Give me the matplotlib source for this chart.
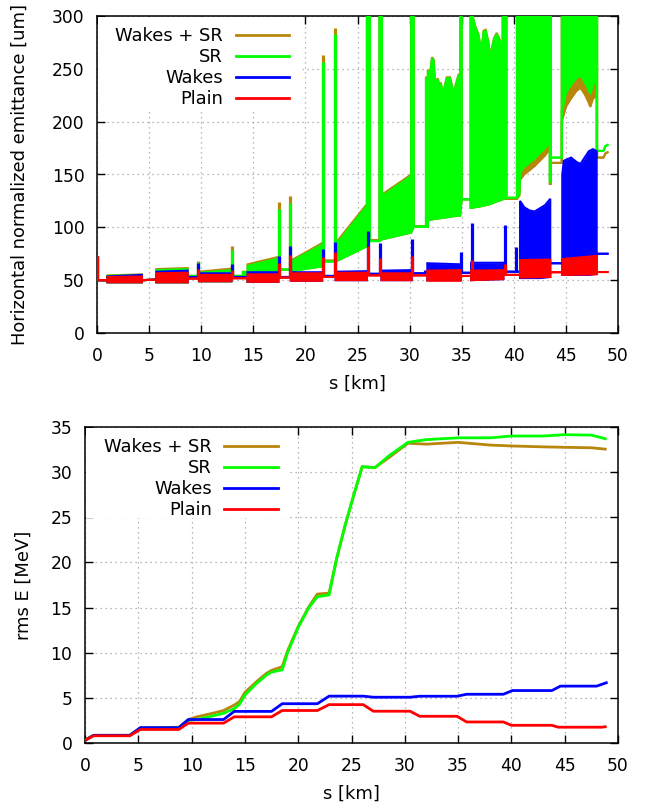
import numpy as np
import matplotlib
matplotlib.use("Agg")
import matplotlib.pyplot as plt
from matplotlib.patches import Rectangle

plt.rcParams['font.family'] = ['DejaVu Sans']
plt.rcParams['font.size'] = 12

# ---------------- DATA ----------------
SERIES = ["Wakes + SR", "SR", "Wakes", "Plain"]
COLORS = ["#b8860b", "#00ff00", "#0000ff", "#ff0000"]

# Top panel: envelopes of the (rapidly oscillating) emittance, (s [km], lower, upper) in um
PLAIN_ENV = [
    (0.0, 50, 50), (1.0, 50, 50), (1.0, 48, 53), (4.3, 48, 53.5), (4.3, 50, 50),
    (5.7, 50.5, 50.5), (5.7, 48, 56.5), (8.7, 48, 57), (8.7, 51.5, 51.5), (9.8, 51.5, 51.5),
    (9.8, 49, 55), (12.9, 49, 55), (12.9, 51.8, 51.8), (14.45, 51.8, 51.8), (14.45, 48.5, 55.5),
    (17.4, 48.5, 55.5), (17.4, 52.4, 52.4), (18.6, 52.4, 52.4), (18.6, 49.5, 56.5), (21.6, 49.5, 56.5),
    (21.6, 53, 53), (22.9, 53, 53), (22.9, 50, 57), (25.9, 50, 57), (25.9, 54.5, 54.5),
    (27.3, 54.5, 54.5), (27.3, 50, 56.5), (30.2, 50, 56.5), (30.2, 54.5, 54.5), (31.7, 54.5, 54.5),
    (31.7, 49.5, 59), (34.9, 49.5, 59.5), (34.9, 54, 54), (35.9, 54, 54), (35.9, 50, 59),
    (39.0, 51, 59.5), (39.0, 55, 55), (40.6, 55, 55), (40.6, 52.5, 69), (43.5, 53, 69.5),
    (43.5, 57.5, 57.5), (44.7, 57.5, 57.5), (44.7, 55, 70), (47.95, 55.5, 73), (47.95, 57.7, 57.7),
    (49.0, 57.7, 57.7),
]
WAKES_ENV = [
    (0.0, 50, 50), (1.0, 50, 50), (1.0, 48, 53.5), (4.3, 48, 55), (4.3, 50, 50),
    (5.7, 50.5, 50.5), (5.7, 48, 58), (8.7, 48, 59), (8.7, 53, 53), (9.8, 53, 53),
    (9.8, 49, 56.5), (12.9, 49, 56.5), (12.9, 53, 53), (14.45, 53, 53), (14.45, 48.5, 57.5),
    (17.4, 48.5, 57.5), (17.4, 53, 53), (18.6, 53, 53), (18.6, 49.5, 57.5), (21.6, 49.5, 57.5),
    (21.6, 54, 54), (22.9, 54, 54), (22.9, 50, 58), (25.9, 50, 58.5), (25.9, 56, 56),
    (27.3, 56, 56), (27.3, 50, 59), (30.2, 50, 59.5), (30.2, 56.5, 56.5), (31.7, 56.5, 56.5),
    (31.7, 50, 66), (34.9, 50, 65), (34.9, 57, 57), (35.9, 57, 57), (35.9, 50, 66.5),
    (39.0, 51, 66.5), (39.0, 58, 58), (40.6, 58, 58), (40.6, 52, 125), (41.0, 52, 119),
    (41.5, 52, 116), (42.0, 52, 115), (42.5, 52, 118), (43.0, 52.5, 121), (43.5, 53, 127),
    (43.5, 66, 66), (44.65, 66, 66), (44.65, 55, 150), (44.8, 55, 163), (45.5, 55, 166),
    (46.0, 55, 162), (46.4, 55, 160), (46.8, 55, 166), (47.2, 55, 172), (47.6, 55.5, 174),
    (47.95, 56, 172), (47.95, 75, 75), (49.0, 75, 75),
]
SR_ENV = [
    (0.0, 50, 50), (1.0, 50, 50), (1.0, 48, 54), (4.3, 48, 55), (4.3, 50, 50),
    (5.7, 50.5, 50.5), (5.7, 48, 59.5), (8.7, 48, 60.5), (8.7, 54, 54), (9.8, 54, 54),
    (9.8, 49, 57), (12.9, 49, 59.5), (12.9, 54, 54), (14.0, 54, 54), (14.0, 54, 57.5),
    (14.35, 54, 57.5), (14.35, 54, 54), (14.45, 54, 54), (14.45, 48.5, 63.5), (17.4, 48.5, 70.5),
    (17.4, 60, 60), (18.6, 60, 60), (18.6, 58.5, 67.5), (21.6, 63, 83.5), (21.6, 67.6, 67.6),
    (22.9, 67.6, 67.6), (22.9, 67.6, 83), (25.9, 82, 120.5), (25.9, 82, 400), (26.2, 87, 400),
    (26.2, 87, 87), (27.1, 87, 87), (27.1, 87, 400), (27.35, 88.6, 400), (27.35, 88.6, 129.6),
    (30.15, 95, 148.6), (30.15, 95, 400), (30.4, 100.6, 400), (30.4, 100.6, 100.6), (31.75, 100.6, 100.6),
    (31.75, 107, 248), (31.97, 107.2, 245), (32.15, 107.5, 260), (32.3, 107.7, 258), (32.45, 108, 236),
    (32.7, 108.3, 240), (32.85, 108.5, 233), (33.0, 108.7, 236), (33.2, 109, 225), (33.4, 109.2, 234),
    (33.56, 109.5, 241), (33.88, 110, 241), (34.05, 110.2, 234), (34.26, 110.5, 224), (34.42, 110.7, 234),
    (34.68, 111, 243), (34.85, 111, 245), (34.85, 111, 400), (35.0, 126.5, 400), (35.0, 126.5, 126.5),
    (35.85, 126.5, 126.5), (35.85, 118.5, 400), (36.05, 118.5, 400), (36.05, 118.6, 300), (36.28, 119, 290),
    (36.6, 119.5, 282), (36.9, 120, 266), (37.1, 120.5, 285), (37.3, 121, 286), (37.55, 121.5, 275),
    (37.72, 122, 262), (37.88, 122.5, 268), (38.1, 123.5, 278), (38.36, 124.5, 283), (38.68, 125.5, 276),
    (38.93, 126.5, 263), (38.93, 126.5, 400), (39.3, 128, 400), (39.3, 128, 128), (40.3, 128, 128),
    (40.3, 128, 400), (40.55, 132, 400), (40.6, 152, 400), (41.0, 157, 400), (41.5, 161, 400),
    (42.0, 165, 400), (42.5, 170, 400), (43.0, 175, 400), (43.45, 180, 400), (43.45, 143, 400),
    (43.55, 143, 400), (43.55, 166, 166), (44.6, 166, 166), (44.6, 210, 400), (44.75, 215, 400),
    (45.0, 227, 400), (45.5, 235, 400), (46.0, 241, 400), (46.4, 244, 400), (46.8, 237, 400),
    (47.1, 232, 400), (47.35, 226, 400), (47.6, 235, 400), (47.95, 238, 400), (47.95, 172.3, 400),
    (48.0, 172.3, 400), (48.0, 172.3, 172.3), (48.6, 172.3, 172.3), (48.8, 177, 177), (49.0, 178, 178),
]
WSR_ENV = [
    (0.0, 50, 50), (1.0, 50, 50), (1.0, 48, 54.5), (4.3, 48, 55.5), (4.3, 50, 50),
    (5.7, 50.5, 50.5), (5.7, 48, 60.5), (8.7, 48, 61.5), (8.7, 54, 54), (9.8, 54, 54),
    (9.8, 49, 58), (12.9, 49, 61), (12.9, 54, 54), (14.0, 54, 54), (14.0, 54, 58),
    (14.35, 54, 58), (14.35, 54, 54), (14.45, 54, 54), (14.45, 48.5, 65), (17.4, 48.5, 72),
    (17.4, 60, 60), (18.6, 60, 60), (18.6, 58.5, 68.5), (21.6, 63, 85), (21.6, 68.5, 68.5),
    (22.9, 68.5, 68.5), (22.9, 67.6, 85), (25.9, 82, 122), (25.9, 82, 400), (26.2, 88, 400),
    (26.2, 88, 88), (27.1, 88, 88), (27.1, 88, 400), (27.35, 88.6, 400), (27.35, 88.6, 131),
    (30.15, 95, 150), (30.15, 95, 400), (30.4, 101, 400), (30.4, 101, 101), (31.75, 101, 101),
    (31.75, 107, 249), (31.97, 107.2, 246), (32.15, 107.5, 261), (32.3, 107.7, 259), (32.45, 108, 237),
    (32.7, 108.3, 241), (32.85, 108.5, 234), (33.0, 108.7, 237), (33.2, 109, 226), (33.4, 109.2, 235),
    (33.56, 109.5, 242), (33.88, 110, 242), (34.05, 110.2, 235), (34.26, 110.5, 225), (34.42, 110.7, 235),
    (34.68, 111, 244), (34.85, 111, 246), (34.85, 111, 400), (35.0, 126.5, 400), (35.0, 126.5, 126.5),
    (35.85, 126.5, 126.5), (35.85, 118.5, 400), (36.05, 118.5, 400), (36.05, 118.6, 300), (36.28, 119, 291),
    (36.6, 119.5, 283), (36.9, 120, 267), (37.1, 120.5, 286), (37.3, 121, 287), (37.55, 121.5, 276),
    (37.72, 122, 263), (37.88, 122.5, 269), (38.1, 123.5, 279), (38.36, 124.5, 284), (38.68, 125.5, 277),
    (38.93, 126.5, 264), (38.93, 126.5, 400), (39.3, 127, 400), (39.3, 127, 127), (40.3, 127, 127),
    (40.3, 127, 400), (40.55, 130, 400), (40.6, 145, 400), (41.0, 150, 400), (41.5, 154, 400),
    (42.0, 158, 400), (42.5, 163, 400), (43.0, 168, 400), (43.45, 174, 400), (43.45, 141, 400),
    (43.55, 141, 400), (43.55, 161, 161), (44.6, 161, 161), (44.6, 200, 400), (44.75, 205, 400),
    (45.0, 214, 400), (45.5, 222, 400), (46.0, 229, 400), (46.4, 232, 400), (46.8, 226, 400),
    (47.1, 220, 400), (47.35, 214, 400), (47.6, 222, 400), (47.95, 224, 400), (47.95, 166, 400),
    (48.0, 166, 400), (48.0, 166, 166), (48.6, 166, 166), (48.8, 170, 170), (49.0, 171, 171),
]

# isolated spikes (s [km], peak emittance [um])
PLAIN_SPIKE_S = [0.0, 9.72, 12.99, 17.47, 18.55, 21.72, 22.88, 26.02, 27.2, 30.26, 35.95, 39.12]
PLAIN_SPIKE_TOP = [73, 61, 60, 66.6, 73.8, 71.6, 76.8, 82, 71, 72.6, 69, 65]
WAKES_SPIKE_S = [0.0, 9.72, 12.99, 17.47, 18.55, 21.72, 22.88, 26.02, 27.2, 30.26, 31.5, 34.9, 35.95, 39.12, 40.21]
WAKES_SPIKE_TOP = [73, 66.6, 65, 73, 82.3, 79.4, 86.3, 97, 85, 89, 60, 76.6, 103.8, 102, 81.6]
SR_SPIKE_S = [0.0, 9.72, 12.99, 17.47, 18.55, 21.72, 22.88, 31.55]
SR_SPIKE_TOP = [73, 67, 79, 117, 123, 256, 283, 242]
WSR_SPIKE_S = [0.0, 9.72, 12.99, 17.47, 18.55, 21.72, 22.88, 31.55]
WSR_SPIKE_TOP = [73, 68.5, 82.5, 124, 130, 263, 288.5, 243]

# Bottom panel: rms energy spread [MeV]
PLAIN_E_S = [0, 0.8, 4.2, 5.2, 8.8, 9.7, 13.0, 14.0, 17.5, 18.5, 21.8, 22.9, 26.1, 27.05,
             30.5, 31.4, 34.9, 35.8, 39.25, 40.0, 43.8, 44.4, 48.5, 48.8]
PLAIN_E = [0.3, 0.8, 0.8, 1.5, 1.5, 2.2, 2.2, 2.9, 2.9, 3.6, 3.6, 4.25, 4.25, 3.52,
           3.52, 2.96, 2.96, 2.33, 2.33, 1.96, 1.96, 1.75, 1.75, 1.8]
WAKES_E_S = [0, 0.8, 4.2, 5.2, 8.8, 9.7, 13.0, 14.0, 17.5, 18.5, 21.8, 22.9, 26.1, 27.05,
             30.5, 31.4, 34.9, 35.8, 39.25, 40.1, 43.8, 44.6, 48.0, 48.9]
WAKES_E = [0.3, 0.85, 0.85, 1.7, 1.7, 2.6, 2.6, 3.5, 3.5, 4.35, 4.35, 5.19, 5.19, 5.07,
           5.07, 5.18, 5.18, 5.4, 5.4, 5.81, 5.81, 6.3, 6.3, 6.67]
SR_E_S = [0, 0.8, 4.2, 5.2, 8.8, 9.7, 10.5, 12.0, 13.0, 14.0, 14.5, 15.0, 16.0, 17.0, 17.5,
          18.5, 19.0, 20.0, 21.0, 21.8, 22.9, 23.6, 24.4, 25.2, 26.0, 27.2, 28.5, 30.3, 32.0,
          35.0, 38.0, 40.0, 43.0, 45.0, 47.5, 48.8]
SR_E = [0.3, 0.85, 0.85, 1.65, 1.7, 2.5, 2.6, 3.0, 3.3, 3.8, 4.3, 5.3, 6.5, 7.5, 7.85,
        8.1, 10.0, 12.8, 15.0, 16.2, 16.4, 20.4, 24.1, 27.4, 30.6, 30.5, 31.8, 33.3, 33.6,
        33.8, 33.8, 34.0, 34.0, 34.15, 34.1, 33.7]
WSR_E_S = SR_E_S
WSR_E = [0.3, 0.85, 0.85, 1.65, 1.75, 2.6, 2.9, 3.3, 3.6, 4.2, 4.6, 5.6, 6.7, 7.7, 8.05,
         8.45, 10.2, 12.9, 15.1, 16.5, 16.6, 20.4, 24.1, 27.4, 30.6, 30.5, 31.6, 33.2, 33.1,
         33.3, 33.0, 32.9, 32.8, 32.75, 32.7, 32.55]

# ---------------- FIGURE ----------------
W, H = 652, 806
LABEL_FS = 12.9
fig = plt.figure(figsize=(W / 100, H / 100), dpi=100)
ax1 = fig.add_axes([97 / W, 1 - 333 / H, 521 / W, 317 / H])
ax2 = fig.add_axes([85 / W, 1 - 743 / H, 533 / W, 316 / H])


def style_axes(ax, xlim, ylim, yticks):
    ax.set_xlim(*xlim)
    ax.set_ylim(*ylim)
    ax.set_xticks(np.arange(0, 51, 5))
    ax.set_yticks(yticks)
    ax.set_axisbelow(True)
    ax.grid(True, linestyle=(0, (1, 3)), color='#a0a0a0', linewidth=0.9)
    ax.tick_params(direction='in', top=True, right=True, length=6, width=1,
                   labelsize=12.3, colors='black')
    ax.tick_params(axis='x', pad=10)
    ax.tick_params(axis='y', pad=9)
    for sp in ax.spines.values():
        sp.set_linewidth(1.1)


style_axes(ax1, (0, 50), (0, 300), np.arange(0, 301, 50))
style_axes(ax2, (0, 50), (0, 35), np.arange(0, 36, 5))

# top panel
envs = [WSR_ENV, SR_ENV, WAKES_ENV, PLAIN_ENV]
spikes = [(WSR_SPIKE_S, WSR_SPIKE_TOP), (SR_SPIKE_S, SR_SPIKE_TOP),
          (WAKES_SPIKE_S, WAKES_SPIKE_TOP), (PLAIN_SPIKE_S, PLAIN_SPIKE_TOP)]
for i, (env, (sps, spt), c) in enumerate(zip(envs, spikes, COLORS)):
    arr = np.array(env, dtype=float)
    s, lo, hi = arr[:, 0], arr[:, 1], arr[:, 2]
    z = 2 + i
    ax1.fill_between(s, lo, hi, color=c, linewidth=0, zorder=z)
    ax1.plot(s, lo, color=c, lw=1.5, zorder=z, solid_joinstyle='miter')
    ax1.plot(s, hi, color=c, lw=1.5, zorder=z, solid_joinstyle='miter')
    base = np.interp(sps, s, lo)
    ax1.vlines(sps, base, spt, colors=c, lw=2.3, zorder=z)

# bottom panel
for i, (ss, ee, c) in enumerate(zip([WSR_E_S, SR_E_S, WAKES_E_S, PLAIN_E_S],
                                    [WSR_E, SR_E, WAKES_E, PLAIN_E], COLORS)):
    ax2.plot(ss, ee, color=c, lw=2.0, zorder=2 + i)

# labels
ax1.set_xlabel("s [km]", fontsize=LABEL_FS)
ax1.set_ylabel("Horizontal normalized emittance [um]", fontsize=LABEL_FS)
ax2.set_xlabel("s [km]", fontsize=LABEL_FS)
ax2.set_ylabel("rms E [MeV]", fontsize=LABEL_FS)
ax1.yaxis.set_label_coords(-0.1305, 0.5)
ax1.xaxis.set_label_coords(0.5, -0.1325)
ax2.yaxis.set_label_coords(-0.0976, 0.5)
ax2.xaxis.set_label_coords(0.5, -0.133)


# gnuplot-style key (text right-aligned, sample line on the right, opaque box)
def key(ax, box, text_right, line_x, baselines):
    bx0, by0, bx1, by1 = box
    ax.add_patch(Rectangle((bx0 / W, 1 - by1 / H), (bx1 - bx0) / W, (by1 - by0) / H,
                           transform=fig.transFigure, facecolor='white',
                           edgecolor='none', zorder=1))
    for name, c, yb in zip(SERIES, COLORS, baselines):
        fig.text(text_right / W, 1 - yb / H, name, ha='right', va='baseline',
                 fontsize=LABEL_FS, zorder=10)
        ax.plot([line_x[0] / W, line_x[1] / W], [1 - (yb - 6) / H] * 2,
                transform=fig.transFigure, color=c, lw=2.0, clip_on=False, zorder=10)


key(ax1, (98, 17, 302, 110), 223, (236, 289), [41, 62, 83, 104])
key(ax2, (86, 428, 290, 518), 212, (224, 278), [452, 473, 494, 515])

fig.savefig("out.png", dpi=100)
